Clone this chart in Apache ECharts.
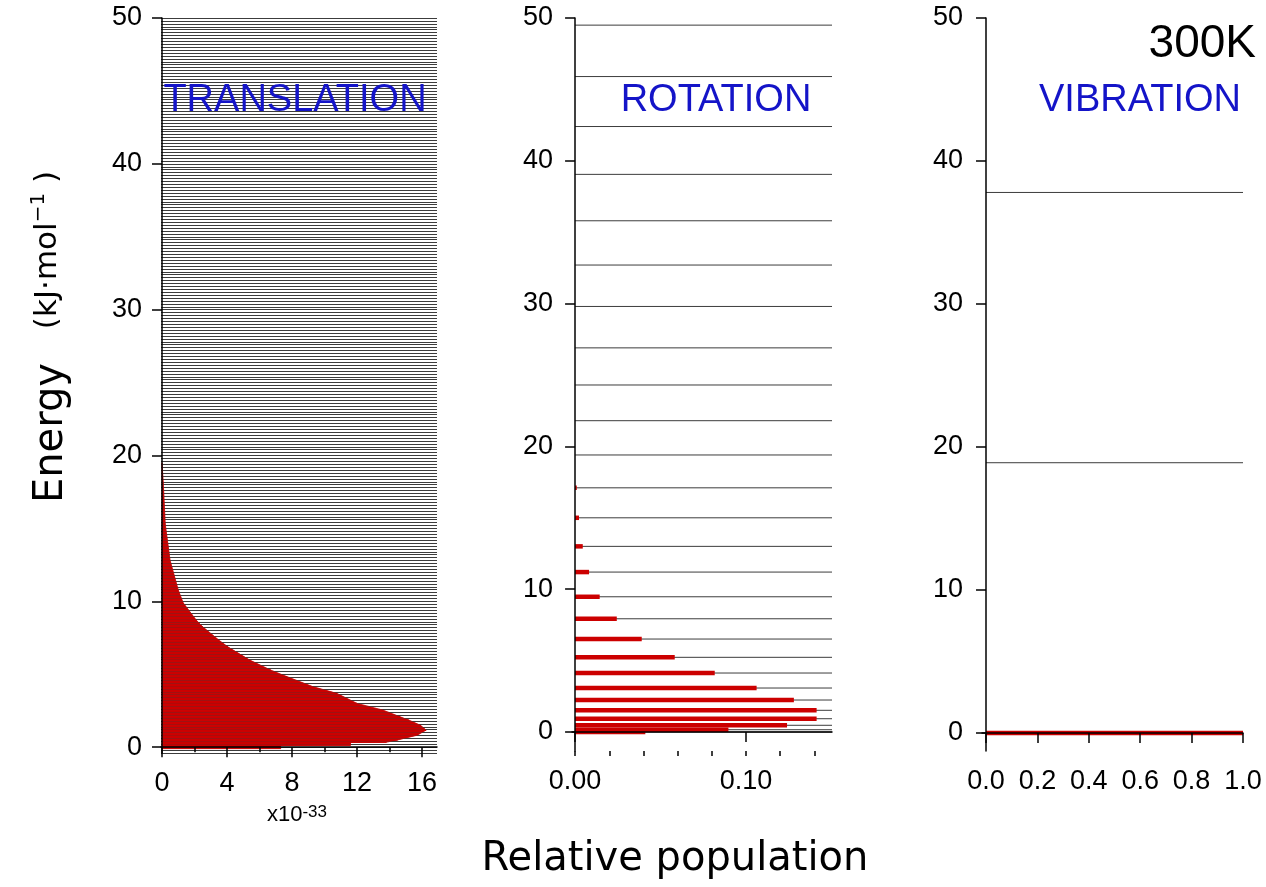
<!DOCTYPE html>
<html><head><meta charset="utf-8">
<script src="https://cdn.jsdelivr.net/npm/echarts@6/dist/echarts.min.js"></script>
<style>html,body{margin:0;padding:0;background:#fff}#c{width:1266px;height:887px}</style>
</head><body><div id="c"></div>
<script>
// ---- tick labels ----
const energyTicks = [0, 10, 20, 30, 40, 50];
const transTicks = [0, 4, 8, 12, 16];
const transMinorTicks = [0, 2, 4, 6, 8, 10, 12, 14, 16];
const rotTicks = [0, 0.1];
const rotMinorTicks = [0, 0.02, 0.04, 0.06, 0.08, 0.1, 0.12, 0.14];
const vibTicks = [0, 0.2, 0.4, 0.6, 0.8, 1.0];
const panelTitles = ['TRANSLATION', 'ROTATION', 'VIBRATION'];

// ---- translation: population envelope (x10^-33) vs energy (kJ/mol) ----
const transEnergy = [-0.1, 0.12, 0.14, 0.32, 0.34, 0.5, 0.82, 1.17, 1.5, 1.85, 2.08, 2.54, 3.0, 3.69, 4.14, 4.83, 5.28, 5.97, 6.88, 7.34, 8.26, 8.72, 9.9, 10.78, 12.8, 15.3, 18.1, 19.5];
const transPop    = [7.3, 7.3, 11.6, 11.6, 13.8, 14.5, 15.7, 16.25, 15.9, 15.2, 14.65, 13.6, 12.0, 10.75, 9.3, 7.7, 6.7, 5.4, 4.05, 3.5, 2.5, 2.1, 1.3, 1.0, 0.5, 0.2, 0.08, 0];

// ---- rotation levels (kJ/mol) and populations ----
const rotLevels = [0, 0.16, 0.47, 0.93, 1.52, 2.24, 3.08, 4.13, 5.23, 6.51, 7.93, 9.47, 11.2, 13.0, 15.0, 17.1, 19.4, 21.8, 24.3, 26.9, 29.8, 32.7, 35.8, 39.05, 42.4, 45.9, 49.5];
const rotPop    = [0.0411, 0.0897, 0.124, 0.1413, 0.1413, 0.128, 0.1062, 0.0817, 0.0583, 0.039, 0.0244, 0.0144, 0.0082, 0.0045, 0.0023, 0.001, 0, 0, 0, 0, 0, 0, 0, 0, 0, 0, 0];

// ---- vibration levels and populations ----
const vibLevels = [0, 18.9, 37.8];
const vibPop    = [1.0, 0, 0];

const SANS = '"Liberation Sans", Arial, sans-serif';
const RED = '#cc0000';
const LINE = '#3c3c3c';

const chart = echarts.init(document.getElementById('c'), null, {renderer: 'canvas'});

function xAx(grid, min, max, ticks, minor, fmt, len) {
  const main = {
    type: 'value', gridIndex: grid, position: 'bottom', min: min, max: max, z: 6,
    axisLine: {show: true, lineStyle: {color: '#000', width: 1.5}},
    axisTick: {show: true, customValues: ticks, length: len, lineStyle: {color: '#000', width: 1.5}},
    axisLabel: {show: true, customValues: ticks, formatter: fmt, color: '#000', fontSize: 27, fontFamily: SANS, margin: 17},
    splitLine: {show: false}
  };
  const out = [main];
  if (minor) {
    out.push({
      type: 'value', gridIndex: grid, position: 'bottom', min: min, max: max, z: 6,
      axisLine: {show: false},
      axisTick: {show: true, customValues: minor, length: 5, lineStyle: {color: '#000', width: 1.5}},
      axisLabel: {show: false}, splitLine: {show: false}
    });
  }
  return out;
}
function yAx(grid, min) {
  return {
    type: 'value', gridIndex: grid, position: 'left', min: min, max: 50, z: 6,
    axisLine: {show: true, lineStyle: {color: '#000', width: 1.5}},
    axisTick: {show: true, customValues: energyTicks, length: 10, lineStyle: {color: '#000', width: 1.5}},
    axisLabel: {show: true, customValues: energyTicks, color: '#000', fontSize: 27, fontFamily: SANS, margin: 19},
    splitLine: {show: false}
  };
}

const xAxes = [].concat(
  xAx(0, -0.06, 16.92, transTicks, transMinorTicks, v => String(v), 10),        // 0,1
  xAx(1, -0.0018, 0.1503, rotTicks, rotMinorTicks, v => v.toFixed(2), 10),      // 2,3
  xAx(2, -0.0156, 1.0, vibTicks, null, v => v.toFixed(1), 10)                   // 4
);
const yAxes = [
  yAx(0, -0.4),
  { // translational level ruling
    type: 'value', gridIndex: 0, position: 'right', min: -0.4, max: 50, interval: 0.2, z: 3,
    axisLine: {show: false}, axisTick: {show: false}, axisLabel: {show: false},
    splitLine: {show: true, lineStyle: {color: LINE, width: 1}}
  },
  yAx(1, -1.33),
  yAx(2, -1.26)
];

function envelope(opacity) {
  return function (params, api) {
    const i = params.dataIndex;
    if (i >= transEnergy.length - 1) return null;
    const a0 = api.coord([0, transEnergy[i]]);
    const a1 = api.coord([transPop[i], transEnergy[i]]);
    const b1 = api.coord([transPop[i + 1], transEnergy[i + 1]]);
    const b0 = api.coord([0, transEnergy[i + 1]]);
    return {type: 'polygon', shape: {points: [a0, a1, b1, b0]},
            style: {fill: RED, stroke: RED, lineWidth: 0.6, opacity: opacity}};
  };
}
function levelLine(xMax) {
  return function (params, api) {
    const e = api.value(1);
    const p0 = api.coord([0, e]);
    const p1 = api.coord([xMax, e]);
    return {type: 'line', shape: {x1: p0[0], y1: p0[1], x2: p1[0], y2: p1[1]}, style: {stroke: LINE, lineWidth: 1}};
  };
}
function popBar(params, api) {
  const p = api.value(0), e = api.value(1);
  if (p <= 0) return null;
  const s = api.coord([0, e]);
  const t = api.coord([p, e]);
  return {type: 'rect', shape: {x: s[0], y: s[1] - 2.25, width: t[0] - s[0], height: 4.5}, style: {fill: RED}};
}

const transData = transEnergy.map((e, i) => [transPop[i], e]);
const option = {
  animation: false,
  backgroundColor: '#fff',
  grid: [
    {left: 161, top: 18, width: 276, height: 735},
    {left: 572, top: 18, width: 260, height: 733},
    {left: 982, top: 18, width: 261, height: 733}
  ],
  xAxis: xAxes,
  yAxis: yAxes,
  series: [
    {type: 'custom', name: 'translation', xAxisIndex: 0, yAxisIndex: 0, z: 2,
     data: transData, renderItem: envelope(1)},
    {type: 'custom', name: 'translation overlay', xAxisIndex: 0, yAxisIndex: 0, z: 5, silent: true,
     data: transData, renderItem: envelope(0.68)},
    {type: 'custom', name: 'rot levels', xAxisIndex: 2, yAxisIndex: 2, z: 2,
     data: rotLevels.map((e, i) => [rotPop[i], e]), renderItem: levelLine(0.1503)},
    {type: 'custom', name: 'rot pop', xAxisIndex: 2, yAxisIndex: 2, z: 3,
     data: rotLevels.map((e, i) => [rotPop[i], e]), renderItem: popBar},
    {type: 'custom', name: 'vib levels', xAxisIndex: 4, yAxisIndex: 3, z: 2,
     data: vibLevels.map((e, i) => [vibPop[i], e]), renderItem: levelLine(1.0)},
    {type: 'custom', name: 'vib pop', xAxisIndex: 4, yAxisIndex: 3, z: 3,
     data: vibLevels.map((e, i) => [vibPop[i], e]), renderItem: popBar}
  ],
  graphic: [
    {type: 'text', x: 295, y: 101, z: 10, style: {text: panelTitles[0], fill: '#1414c8', font: '38px ' + SANS, textAlign: 'center', textVerticalAlign: 'middle'}},
    {type: 'text', x: 716, y: 101, z: 10, style: {text: panelTitles[1], fill: '#1414c8', font: '38px ' + SANS, textAlign: 'center', textVerticalAlign: 'middle'}},
    {type: 'text', x: 1140, y: 101, z: 10, style: {text: panelTitles[2], fill: '#1414c8', font: '38px ' + SANS, textAlign: 'center', textVerticalAlign: 'middle'}},
    {type: 'text', x: 1256, y: 44, z: 10, style: {text: '300K', fill: '#000', font: '46px ' + SANS, textAlign: 'right', textVerticalAlign: 'middle'}},
    {type: 'text', x: 675, y: 860, z: 10, style: {text: 'Relative population', fill: '#000', font: '40px "DejaVu Sans", sans-serif', textAlign: 'center', textVerticalAlign: 'middle'}},
    {type: 'text', x: 52, y: 433, rotation: Math.PI / 2, z: 10, style: {text: 'Energy', fill: '#000', font: '40px "DejaVu Sans", sans-serif', textAlign: 'center', textVerticalAlign: 'middle'}},
    {type: 'text', x: 46, y: 250, rotation: Math.PI / 2, z: 10, style: {
      text: '{a|(kJ·mol}{b|−1}{a| )}', textAlign: 'center', textVerticalAlign: 'middle',
      rich: {
        a: {fill: '#000', font: '31px "DejaVu Sans", sans-serif', lineHeight: 34, padding: [12, 0, 0, 0], verticalAlign: 'bottom'},
        b: {fill: '#000', font: '20px "DejaVu Sans", sans-serif', lineHeight: 22, verticalAlign: 'top'}
      }}},
    {type: 'text', x: 297, y: 815, z: 10, style: {
      text: '{a|x10}{b|-33}', textAlign: 'center', textVerticalAlign: 'middle',
      rich: {
        a: {fill: '#000', font: '22px ' + SANS, lineHeight: 22, padding: [10, 0, 0, 0], verticalAlign: 'bottom'},
        b: {fill: '#000', font: '17px ' + SANS, lineHeight: 18, verticalAlign: 'top'}
      }}}
  ]
};
chart.setOption(option);
</script>
</body></html>
